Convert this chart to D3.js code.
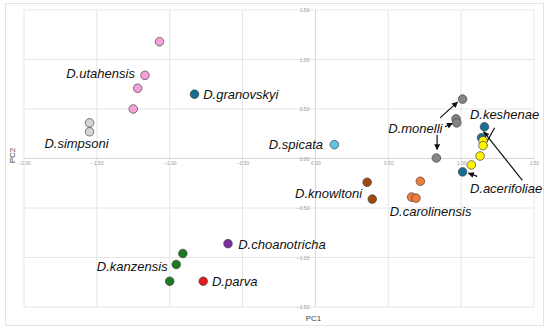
<!DOCTYPE html>
<html>
<head>
<meta charset="utf-8">
<script src="https://cdn.jsdelivr.net/npm/d3@7"></script>
<style>
  body { margin: 0; background: #fff; }
  svg { display: block; }
  .tick text { font-family: "Liberation Sans", Arial, sans-serif; font-size: 5px; fill: #9a9a9a; }
  .lbl { font-family: "Liberation Sans", Arial, sans-serif; font-style: italic; font-size: 13px; fill: #111; }
  .axtitle { font-family: "Liberation Sans", Arial, sans-serif; font-size: 8px; fill: #444; }
</style>
</head>
<body>
<svg id="chart" width="550" height="334"></svg>
<script>
// PCA scores, one entry per specimen
const group = ["utah","utah","utah","utah","simp","simp","gran","spic",
  "mone","mone","mone","mone","blue","blue","yell","yell","yell","yell","blue",
  "caro","caro","caro","know","know","choa","kanz","kanz","kanz","parv"]
const pc1 = [-1.07,-1.17,-1.22,-1.25,-1.55,-1.55,-0.83,0.13,
  1.01,0.965,0.97,0.83,1.16,1.14,1.15,1.15,1.13,1.07,1.01,
  0.72,0.66,0.69,0.355,0.39,-0.60,-0.91,-0.955,-1.0,-0.77]
const pc2 = [1.18,0.84,0.71,0.50,0.36,0.27,0.65,0.14,
  0.60,0.40,0.36,0.005,0.32,0.21,0.18,0.13,0.025,-0.065,-0.135,
  -0.23,-0.39,-0.40,-0.24,-0.41,-0.86,-0.96,-1.07,-1.24,-1.24]

const groupColor = {
  utah: "#f4a1da", simp: "#d4d4d4", gran: "#166e92", spic: "#5ec6e2",
  mone: "#858585", blue: "#166e92", yell: "#fff200", caro: "#f47b38",
  know: "#a4480f", choa: "#7a2e9c", kanz: "#1b7a22", parv: "#e31a1a"
}

// species labels (start position in PC units)
const labelText = ["D.utahensis","D.granovskyi","D.simpsoni","D.spicata","D.monelli","D.keshenae",
  "D.acerifoliae","D.knowltoni","D.carolinensis","D.choanotricha","D.kanzensis","D.parva"]
const labelX = [-1.71,-0.77,-1.86,-0.32,0.50,1.06,1.06,-0.14,0.51,-0.53,-1.50,-0.71]
const labelY = [0.81,0.60,0.11,0.10,0.26,0.40,-0.35,-0.40,-0.58,-0.91,-1.14,-1.29]

// leader arrows, from -> to (head at "to")
const arrowFrom = [[0.855,0.41],[0.89,0.32],[0.835,0.24],[1.23,0.31],[1.42,-0.22],[1.11,-0.18]]
const arrowTo = [[0.975,0.57],[0.94,0.355],[0.835,0.09],[1.15,0.10],[1.155,0.27],[1.05,-0.148]]

const ticks = [-2,-1.5,-1,-0.5,0,0.5,1,1.5]
const yTicks = [-1.5,-1,-0.5,0,0.5,1,1.5]

const svg = d3.select("#chart")

svg.append("rect")
  .attr("x", 5.5).attr("y", 3.5)
  .attr("width", 538).attr("height", 322)
  .attr("fill", "#fff")
  .attr("stroke", "#e4e4e4")

const x = d3.scaleLinear().domain([-2, 1.5]).range([24, 534])
const y = d3.scaleLinear().domain([-1.5, 1.5]).range([307, 10])

// grid
svg.append("g").selectAll("line").data(ticks).enter().append("line")
  .attr("x1", d => x(d)).attr("x2", d => x(d))
  .attr("y1", y(1.5)).attr("y2", y(-1.5))
  .attr("stroke", d => d == 0 ? "#d6d6d6" : "#e6e6e6")
svg.append("g").selectAll("line").data(yTicks).enter().append("line")
  .attr("y1", d => y(d)).attr("y2", d => y(d))
  .attr("x1", x(-2)).attr("x2", x(1.5))
  .attr("stroke", d => d == 0 ? "#d6d6d6" : "#e6e6e6")

const fmt = d3.format(".2f")
svg.append("g")
  .attr("transform", "translate(0," + y(0) + ")")
  .call(d3.axisBottom(x).tickValues(ticks).tickSize(0).tickPadding(3).tickFormat(fmt))
  .select(".domain").remove()
svg.append("g")
  .attr("transform", "translate(" + x(0) + ",0)")
  .call(d3.axisLeft(y).tickValues(yTicks).tickSize(0).tickPadding(6).tickFormat(fmt))
  .select(".domain").remove()

svg.append("text").attr("class", "axtitle")
  .attr("x", x(0) - 2).attr("y", 321)
  .attr("text-anchor", "middle")
  .text("PC1")
svg.append("text").attr("class", "axtitle")
  .attr("transform", "translate(15," + (y(0) - 3) + ") rotate(-90)")
  .attr("text-anchor", "middle")
  .text("PC2")

// arrows
svg.append("defs").append("marker")
  .attr("id", "head")
  .attr("viewBox", "0 0 10 10")
  .attr("refX", 9).attr("refY", 5)
  .attr("markerWidth", 5).attr("markerHeight", 5)
  .attr("orient", "auto")
  .append("path").attr("d", "M0,0L10,5L0,10z").attr("fill", "#111")

svg.append("g").selectAll("line").data(arrowFrom).enter().append("line")
  .attr("x1", d => x(d[0])).attr("y1", d => y(d[1]))
  .attr("x2", (d, i) => x(arrowTo[i][0])).attr("y2", (d, i) => y(arrowTo[i][1]))
  .attr("stroke", "#111").attr("stroke-width", 1.2)
  .attr("marker-end", "url(#head)")

// points
svg.append("g").selectAll("circle").data(pc1).enter().append("circle")
  .attr("cx", d => x(d))
  .attr("cy", (d, i) => y(pc2[i]))
  .attr("r", 4.3)
  .attr("fill", (d, i) => groupColor[group[i]])
  .attr("stroke", "#444")
  .attr("stroke-width", 0.7)

// labels
svg.append("g").selectAll("text").data(labelText).enter().append("text")
  .attr("class", "lbl")
  .attr("x", (d, i) => x(labelX[i]))
  .attr("y", (d, i) => y(labelY[i]))
  .text(d => d)
</script>
</body>
</html>
